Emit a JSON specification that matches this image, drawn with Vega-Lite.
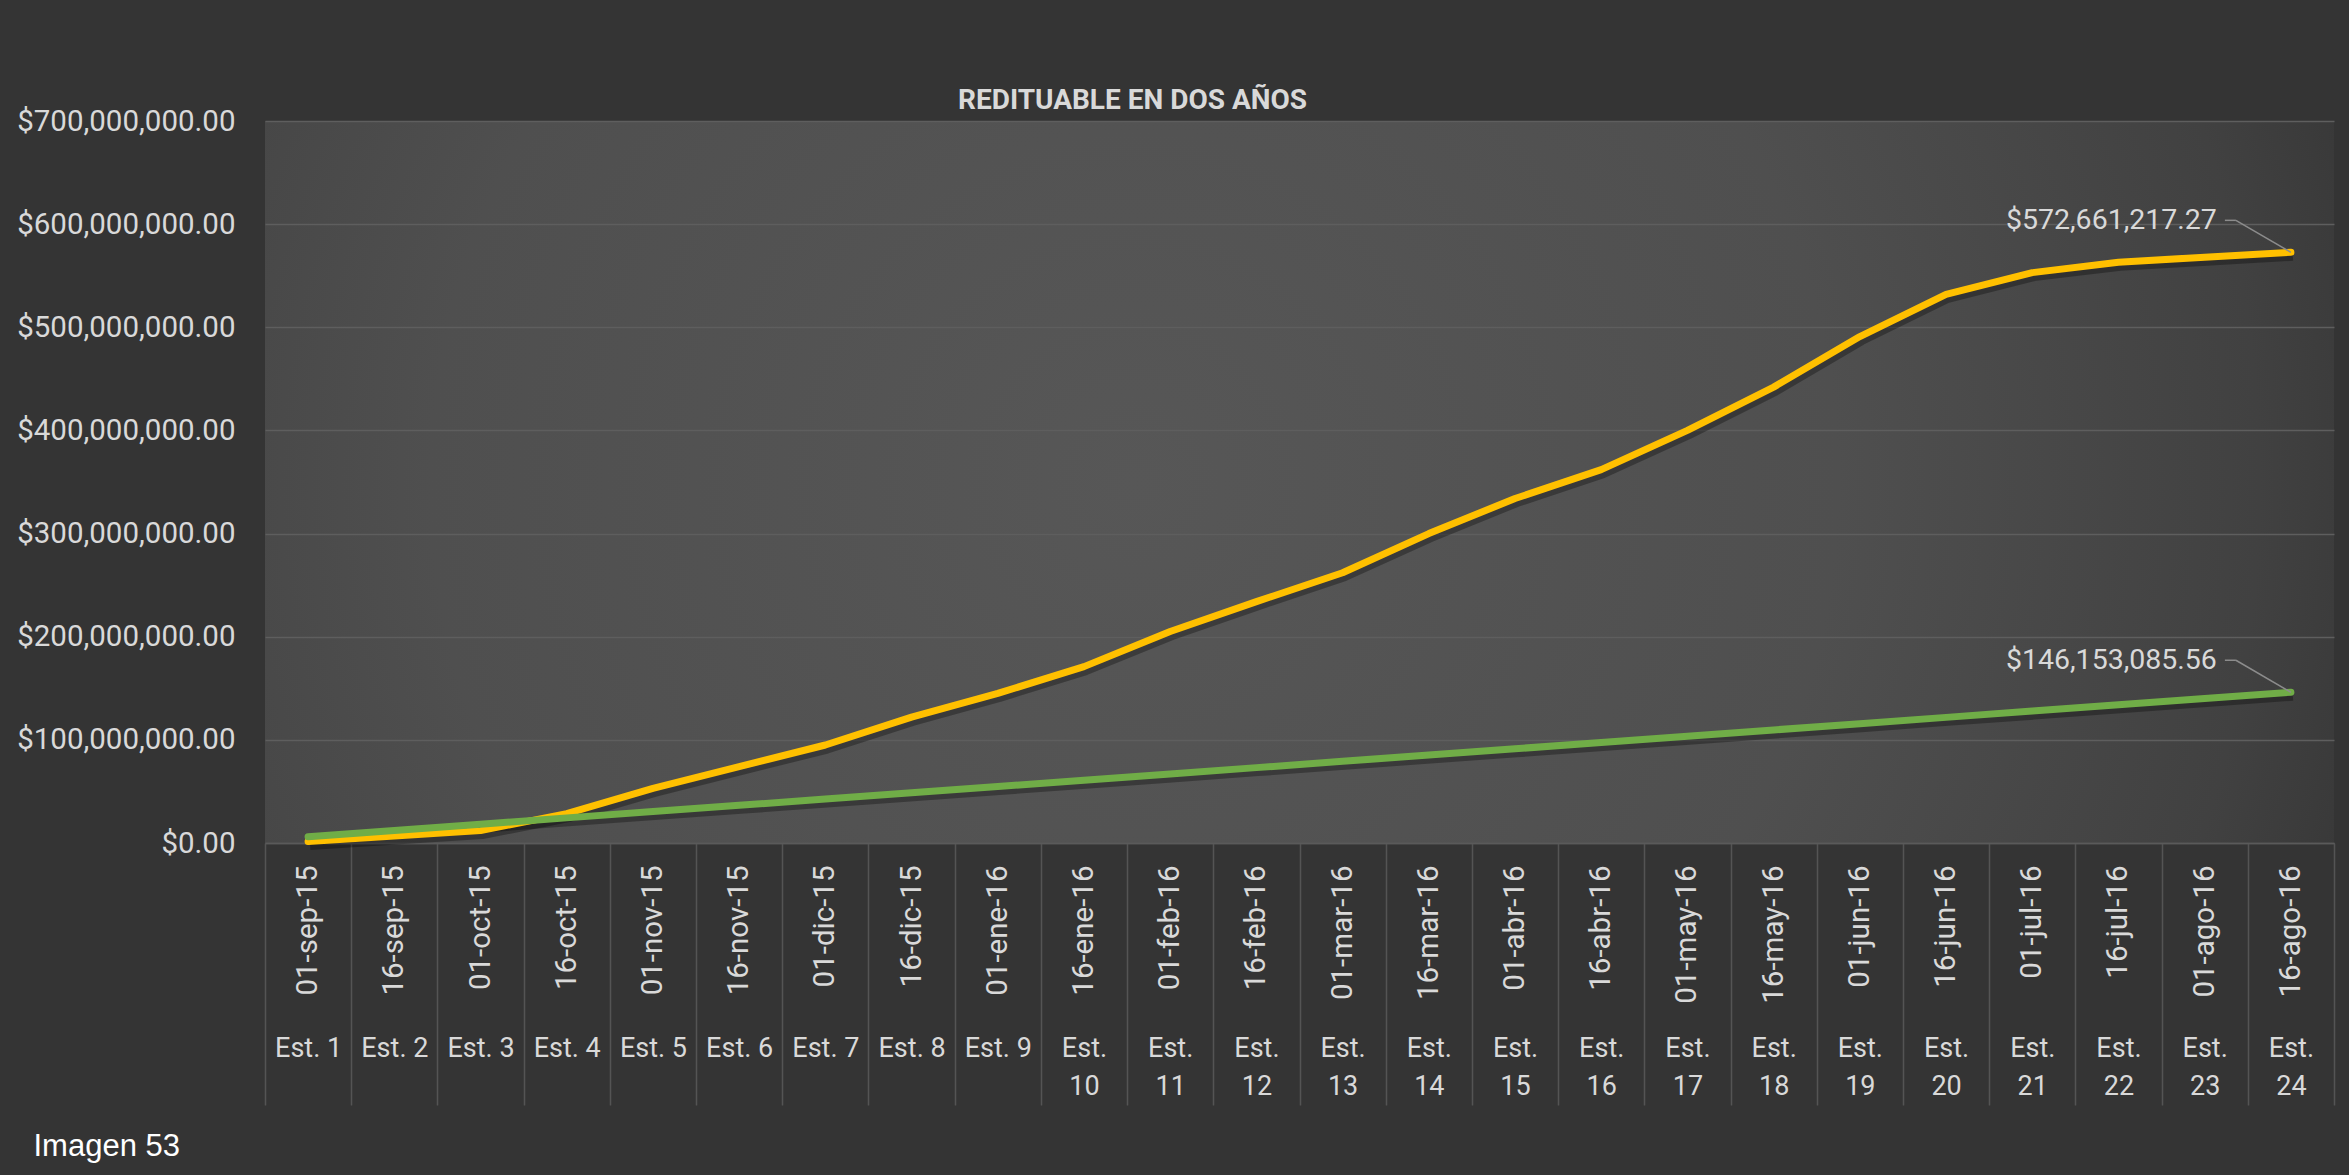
{
  "$schema": "https://vega.github.io/schema/vega-lite/v6.json",
  "width": 2069,
  "height": 722,
  "autosize": {"type": "none"},
  "padding": {"left": 265, "top": 121, "right": 15, "bottom": 332},
  "background": "#343434",
  "config": {
    "view": {
      "stroke": null,
      "fill": {"gradient": "radial", "x1": 0.42, "y1": 0.5, "r1": 0, "x2": 0.42, "y2": 0.5, "r2": 0.68,
        "stops": [{"offset": 0, "color": "#575757"}, {"offset": 0.5, "color": "#4f4f4f"}, {"offset": 0.8, "color": "#414141"}, {"offset": 1, "color": "#303030"}]}
    },
    "font": "Roboto",
    "axis": {"labelFont": "Roboto", "labelColor": "#d9d9d9", "labelFontSize": 28, "labelLimit": 0}
  },
  "title": {"text": "REDITUABLE EN DOS AÑOS", "font": "Roboto", "fontSize": 28, "fontWeight": "bold", "color": "#d9d9d9", "anchor": "middle", "dx": -167, "frame": "group", "baseline": "alphabetic", "offset": -31, "limit": 0},
  "data": {"values": [
    {"periodo": "Est. 1|01-sep-15", "est": "Est. 1", "serie": "Real", "valor": 1500000},
    {"periodo": "Est. 2|16-sep-15", "est": "Est. 2", "serie": "Real", "valor": 6800000},
    {"periodo": "Est. 3|01-oct-15", "est": "Est. 3", "serie": "Real", "valor": 12000000},
    {"periodo": "Est. 4|16-oct-15", "est": "Est. 4", "serie": "Real", "valor": 28500000},
    {"periodo": "Est. 5|01-nov-15", "est": "Est. 5", "serie": "Real", "valor": 53000000},
    {"periodo": "Est. 6|16-nov-15", "est": "Est. 6", "serie": "Real", "valor": 74000000},
    {"periodo": "Est. 7|01-dic-15", "est": "Est. 7", "serie": "Real", "valor": 95000000},
    {"periodo": "Est. 8|16-dic-15", "est": "Est. 8", "serie": "Real", "valor": 122000000},
    {"periodo": "Est. 9|01-ene-16", "est": "Est. 9", "serie": "Real", "valor": 145000000},
    {"periodo": "Est. 10|16-ene-16", "est": "Est. 10", "serie": "Real", "valor": 171000000},
    {"periodo": "Est. 11|01-feb-16", "est": "Est. 11", "serie": "Real", "valor": 205000000},
    {"periodo": "Est. 12|16-feb-16", "est": "Est. 12", "serie": "Real", "valor": 234000000},
    {"periodo": "Est. 13|01-mar-16", "est": "Est. 13", "serie": "Real", "valor": 262000000},
    {"periodo": "Est. 14|16-mar-16", "est": "Est. 14", "serie": "Real", "valor": 300000000},
    {"periodo": "Est. 15|01-abr-16", "est": "Est. 15", "serie": "Real", "valor": 334000000},
    {"periodo": "Est. 16|16-abr-16", "est": "Est. 16", "serie": "Real", "valor": 362000000},
    {"periodo": "Est. 17|01-may-16", "est": "Est. 17", "serie": "Real", "valor": 400000000},
    {"periodo": "Est. 18|16-may-16", "est": "Est. 18", "serie": "Real", "valor": 442000000},
    {"periodo": "Est. 19|01-jun-16", "est": "Est. 19", "serie": "Real", "valor": 491000000},
    {"periodo": "Est. 20|16-jun-16", "est": "Est. 20", "serie": "Real", "valor": 532000000},
    {"periodo": "Est. 21|01-jul-16", "est": "Est. 21", "serie": "Real", "valor": 553000000},
    {"periodo": "Est. 22|16-jul-16", "est": "Est. 22", "serie": "Real", "valor": 563000000},
    {"periodo": "Est. 23|01-ago-16", "est": "Est. 23", "serie": "Real", "valor": 568000000},
    {"periodo": "Est. 24|16-ago-16", "est": "Est. 24", "serie": "Real", "valor": 572661217.27},
    {"periodo": "Est. 1|01-sep-15", "est": "Est. 1", "serie": "Lineal", "valor": 6089712},
    {"periodo": "Est. 2|16-sep-15", "est": "Est. 2", "serie": "Lineal", "valor": 12179424},
    {"periodo": "Est. 3|01-oct-15", "est": "Est. 3", "serie": "Lineal", "valor": 18269136},
    {"periodo": "Est. 4|16-oct-15", "est": "Est. 4", "serie": "Lineal", "valor": 24358848},
    {"periodo": "Est. 5|01-nov-15", "est": "Est. 5", "serie": "Lineal", "valor": 30448560},
    {"periodo": "Est. 6|16-nov-15", "est": "Est. 6", "serie": "Lineal", "valor": 36538271},
    {"periodo": "Est. 7|01-dic-15", "est": "Est. 7", "serie": "Lineal", "valor": 42627983},
    {"periodo": "Est. 8|16-dic-15", "est": "Est. 8", "serie": "Lineal", "valor": 48717695},
    {"periodo": "Est. 9|01-ene-16", "est": "Est. 9", "serie": "Lineal", "valor": 54807407},
    {"periodo": "Est. 10|16-ene-16", "est": "Est. 10", "serie": "Lineal", "valor": 60897119},
    {"periodo": "Est. 11|01-feb-16", "est": "Est. 11", "serie": "Lineal", "valor": 66986831},
    {"periodo": "Est. 12|16-feb-16", "est": "Est. 12", "serie": "Lineal", "valor": 73076543},
    {"periodo": "Est. 13|01-mar-16", "est": "Est. 13", "serie": "Lineal", "valor": 79166255},
    {"periodo": "Est. 14|16-mar-16", "est": "Est. 14", "serie": "Lineal", "valor": 85255967},
    {"periodo": "Est. 15|01-abr-16", "est": "Est. 15", "serie": "Lineal", "valor": 91345679},
    {"periodo": "Est. 16|16-abr-16", "est": "Est. 16", "serie": "Lineal", "valor": 97435391},
    {"periodo": "Est. 17|01-may-16", "est": "Est. 17", "serie": "Lineal", "valor": 103525103},
    {"periodo": "Est. 18|16-may-16", "est": "Est. 18", "serie": "Lineal", "valor": 109614815},
    {"periodo": "Est. 19|01-jun-16", "est": "Est. 19", "serie": "Lineal", "valor": 115704527},
    {"periodo": "Est. 20|16-jun-16", "est": "Est. 20", "serie": "Lineal", "valor": 121794239},
    {"periodo": "Est. 21|01-jul-16", "est": "Est. 21", "serie": "Lineal", "valor": 127883950},
    {"periodo": "Est. 22|16-jul-16", "est": "Est. 22", "serie": "Lineal", "valor": 133973662},
    {"periodo": "Est. 23|01-ago-16", "est": "Est. 23", "serie": "Lineal", "valor": 140063374},
    {"periodo": "Est. 24|16-ago-16", "est": "Est. 24", "serie": "Lineal", "valor": 146153085.56}
  ]},
  "resolve": {"axis": {"x": "independent"}},
  "layer": [
    {
      "transform": [{"filter": "datum.serie === 'Real'"}],
      "mark": {"type": "point", "opacity": 0},
      "encoding": {
        "x": {
          "field": "periodo", "type": "ordinal", "sort": null,
          "scale": {"type": "band", "paddingInner": 0, "paddingOuter": 0},
          "axis": {
            "orient": "bottom", "title": "Imagen 53",
            "labelAngle": 0, "labelAlign": "center", "labelBaseline": "top",
            "labelPadding": -70, "labelLineHeight": 38, "labelFontSize": 27, "labelOverlap": false,
            "labelExpr": "isString(datum.value) ? (length(split(datum.value, '|')[0]) > 6 ? split(split(datum.value, '|')[0], ' ') : split(datum.value, '|')[0]) : ''",
            "ticks": true, "tickBand": "extent", "tickSize": 262, "tickColor": "#545454", "tickWidth": 1.5,
            "domain": false, "grid": false,
            "titleX": -232, "titleY": 303, "titleAlign": "left", "titleBaseline": "middle", "titleAngle": 0,
            "titleFont": "Liberation Sans", "titleFontSize": 31, "titleFontWeight": "normal", "titleColor": "#ffffff"
          }
        }
      }
    },
    {
      "encoding": {
        "x": {
          "field": "periodo", "type": "ordinal", "sort": null,
          "axis": {
            "orient": "bottom", "title": null, "labelAngle": -90, "labelPadding": 22, "labelFontSize": 29.5,
            "labelExpr": "isString(datum.value) ? split(datum.value, '|')[1] : ''",
            "labelOverlap": false, "ticks": false, "domain": true, "domainColor": "#5a5a5a", "domainWidth": 1.5, "grid": false
          }
        },
        "y": {
          "field": "valor", "type": "quantitative",
          "scale": {"domain": [0, 700000000], "nice": false, "zero": true},
          "axis": {
            "title": null, "values": [0, 100000000, 200000000, 300000000, 400000000, 500000000, 600000000, 700000000],
            "format": "$,.2f", "labelFontSize": 29.5, "labelPadding": 30, "ticks": false, "domain": false,
            "grid": true, "gridColor": "#5e5e5e", "gridWidth": 1.5
          }
        }
      },
      "layer": [
        {
          "mark": {"type": "line", "color": "#000000", "opacity": 0.3, "strokeWidth": 9, "xOffset": 2, "yOffset": 4, "strokeJoin": "round"},
          "encoding": {"detail": {"field": "serie"}}
        },
        {
          "transform": [{"filter": "datum.serie === 'Real'"}],
          "mark": {"type": "line", "color": "#FFC000", "strokeWidth": 7, "strokeJoin": "round", "strokeCap": "round"}
        },
        {
          "transform": [{"filter": "datum.serie === 'Lineal'"}],
          "mark": {"type": "line", "color": "#70AD47", "strokeWidth": 7, "strokeJoin": "round", "strokeCap": "round"}
        },
        {
          "transform": [{"filter": "datum.est === 'Est. 24'"}],
          "mark": {"type": "rule", "color": "#8c8c8c", "strokeWidth": 1.5, "xOffset": -55, "yOffset": -32, "x2Offset": 0, "y2Offset": 0},
          "encoding": {"x2": {"field": "periodo"}, "y2": {"field": "valor"}}
        },
        {
          "transform": [{"filter": "datum.est === 'Est. 24'"}],
          "mark": {"type": "rule", "color": "#8c8c8c", "strokeWidth": 1.5, "xOffset": -66, "yOffset": -32, "x2Offset": -55, "y2Offset": -32},
          "encoding": {"x2": {"field": "periodo"}, "y2": {"field": "valor"}}
        },
        {
          "transform": [{"filter": "datum.est === 'Est. 24'"}],
          "mark": {"type": "text", "align": "right", "baseline": "middle", "dx": -74, "dy": -32, "fontSize": 28.5, "font": "Roboto", "color": "#d9d9d9"},
          "encoding": {"text": {"field": "valor", "type": "quantitative", "format": "$,.2f"}}
        }
      ]
    }
  ]
}
